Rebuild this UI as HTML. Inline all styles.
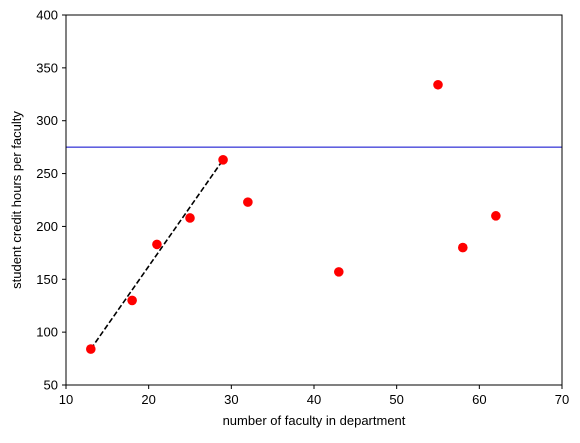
<!DOCTYPE html>
<html><head><meta charset="utf-8"><style>
body{margin:0;background:#fff;}
svg{font-family:"Liberation Sans","DejaVu Sans",sans-serif;}
</style></head><body>
<svg id="chart" width="580" height="438" viewBox="0 0 580 438">
<rect x="0" y="0" width="580" height="438" fill="#fff"/>
<g id="marks"></g>
<rect x="66" y="15" width="496" height="370" fill="none" stroke="#000" stroke-width="1"/>
<g id="axes"></g>
<text x="314" y="425" font-size="13" text-anchor="middle">number of faculty in department</text>
<text x="21" y="200" font-size="13" text-anchor="middle" transform="rotate(-90 21 200)">student credit hours per faculty</text>
</svg>
<script>
const xs=[13,18,21,25,29,32,43,55,58,62];
const ys=[84,130,183,208,263,223,157,334,180,210];
const xTicks=[10,20,30,40,50,60,70];
const yTicks=[50,100,150,200,250,300,350,400];
const refLine=[275];
const fitX=[13,29];
const fitY=[84,263];
const L=66,R=562,T=15,B=385;
const sx=v=>L+(v-10)/60*(R-L);
const sy=v=>B-(v-50)/350*(B-T);
const NS='http://www.w3.org/2000/svg';
const marks=document.getElementById('marks'),axes=document.getElementById('axes');
function mk(tag,attrs,parent){const e=document.createElementNS(NS,tag);for(const k in attrs)e.setAttribute(k,attrs[k]);parent.appendChild(e);return e;}
const h=mk('line',{x1:L,x2:R,y1:sy(refLine[0]),y2:sy(refLine[0]),stroke:'#0000cc','stroke-width':1},marks);


const f=mk('line',{x1:sx(fitX[0]),y1:sy(fitY[0]),x2:sx(fitX[1]),y2:sy(fitY[1]),stroke:'#000','stroke-width':1.6,'stroke-dasharray':'5.5,2.5'},marks);


xs.forEach((x,i)=>{const c=mk('circle',{cx:sx(x),cy:sy(ys[i]),r:4.8,fill:'#ff0000'},marks);

});
xTicks.forEach(t=>{const x=sx(t);
const l=mk('line',{x1:x,x2:x,y1:B,y2:B+4,stroke:'#000'},axes);


const tx=mk('text',{x:x,y:B+19,'font-size':13,'text-anchor':'middle'},axes);tx.textContent=t;

});
yTicks.forEach(t=>{const y=sy(t);
const l=mk('line',{x1:L-4,x2:L,y1:y,y2:y,stroke:'#000'},axes);


const tx=mk('text',{x:L-8,y:y+4.5,'font-size':13,'text-anchor':'end'},axes);tx.textContent=t;

});
</script>
</body></html>
